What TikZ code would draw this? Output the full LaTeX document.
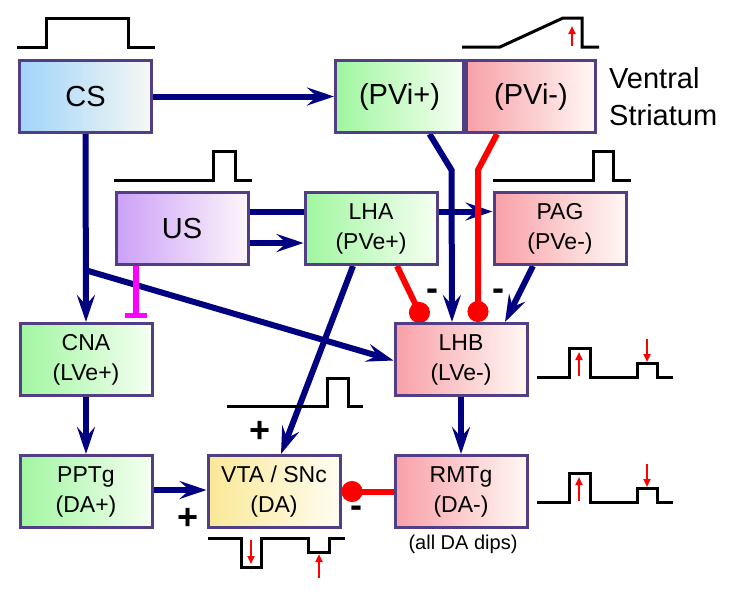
\documentclass[tikz,border=0pt]{standalone}
\usepackage{fontspec}
\setmainfont{Liberation Sans}
\usetikzlibrary{arrows.meta,backgrounds}
\definecolor{navyb}{RGB}{0,0,128}
\definecolor{boxedge}{RGB}{82,62,132}
\definecolor{magb}{RGB}{255,0,255}
\definecolor{redb}{RGB}{255,0,0}
\definecolor{gL}{RGB}{160,246,160}\definecolor{gR}{RGB}{246,255,242}
\definecolor{rL}{RGB}{248,160,168}\definecolor{rR}{RGB}{255,248,244}
\definecolor{bL}{RGB}{160,212,250}\definecolor{bR}{RGB}{246,248,244}
\definecolor{pL}{RGB}{204,160,248}\definecolor{pR}{RGB}{252,246,250}
\definecolor{yL}{RGB}{250,232,150}\definecolor{yR}{RGB}{255,253,242}
\tikzset{
  box/.style={draw=boxedge, line width=3pt, minimum width=132pt, minimum height=72pt, inner sep=0pt, align=center},
  bigtxt/.style={font=\fontsize{29pt}{37pt}\selectfont},
  smalltxt/.style={font=\fontsize{23pt}{30pt}\selectfont},
  green box/.style={box, left color=gL, right color=gR},
  red box/.style={box, left color=rL, right color=rR},
  arr/.style={draw=navyb, line width=6pt, -{Stealth[length=27pt,width=18pt,inset=10pt]}},
  inh/.style={draw=redb, line width=6pt, -{Circle[length=21pt]}},
  sig/.style={black, line width=3pt},
  rarr/.style={redb, line width=2pt, -{Triangle[length=8pt,width=7pt]}},
  sgn/.style={font=\fontsize{36pt}{36pt}\selectfont\bfseries, inner sep=0pt}
}
\begin{document}
\begin{tikzpicture}[x=1pt,y=-1pt]
\useasboundingbox (0,0) rectangle (736,590);
% boxes
\node[box, bigtxt, left color=bL, right color=bR] (CS) at (85.5,96.5) {CS};
\node[green box, bigtxt, minimum width=128pt] (pvip) at (399.5,96.5) {(PVi+)};
\node[red box, bigtxt, minimum width=129pt] (pvim) at (531,96.5) {(PVi-)};
\node[box, bigtxt, left color=pL, right color=pR] (US) at (182,228.5) {US};
\node[green box, smalltxt] (LHA) at (371,228.5) {LHA\\(PVe+)};
\node[red box, smalltxt] (PAG) at (560,228.5) {PAG\\(PVe-)};
\node[green box, smalltxt] (CNA) at (86,359.5) {CNA\\(LVe+)};
\node[red box, smalltxt] (LHB) at (461,359.5) {LHB\\(LVe-)};
\node[green box, smalltxt] (PPTg) at (86,491.5) {PPTg\\(DA+)};
\node[box, smalltxt, left color=yL, right color=yR] (VTA) at (274,491.5) {VTA / SNc\\(DA)};
\node[red box, smalltxt] (RMTg) at (461,491.5) {RMTg\\(DA-)};
% labels
\node[bigtxt, anchor=west, align=left, inner sep=0pt] (VS) at (609,97) {Ventral\\Striatum};
\node[font=\fontsize{20pt}{22pt}\selectfont, inner sep=0pt] (dips) at (463,544) {(all DA dips)};
\node[sgn] (p1) at (260,432) {+};
\node[sgn] (p2) at (188,519) {+};
\node[sgn] (m1) at (356,512) {-};
\node[sgn] (m2) at (432,295) {-};
\node[sgn] (m3) at (498,295) {-};
% connectors
\coordinate (cj) at (85,270);
\coordinate (usT) at (136,318);
\begin{pgfonlayer}{background}
\fill[white] (0,0) rectangle (736,590);
\draw[arr] (CS.east) -- (pvip.west);
\draw[arr] (CS.south) -- (CNA.north);
\draw[arr] (cj) -- ([yshift=-1pt]LHB.west);
\draw[draw=magb, line width=5.5pt, -{Bar[width=22pt]}] ([xshift=-46pt]US.south) -- (usT);
\draw[arr] ([yshift=17pt]US.east) -- ([yshift=17pt]PAG.west);
\draw[arr] ([yshift=-14.5pt]US.east) -- ([yshift=-14.5pt]LHA.west);
\draw[arr] ([xshift=-18pt]LHA.south) -- ([xshift=7pt]VTA.north);
\draw[inh] ([xshift=26pt]LHA.south) -- ([xshift=-37pt]LHB.north);
\draw[arr] ([xshift=30pt]pvip.south) -- ++(22,36) -- ([xshift=-9pt]LHB.north);
\draw[inh] ([xshift=-34pt]pvim.south) -- ++(-19,36) -- ([xshift=17pt]LHB.north);
\draw[arr] ([xshift=-27pt]PAG.south) -- ([xshift=44pt]LHB.north);
\draw[arr] (LHB.south) -- (RMTg.north);
\draw[arr] (CNA.south) -- (PPTg.north);
\draw[arr] ([yshift=1.5pt]PPTg.east) -- ([yshift=1.5pt]VTA.west);
\draw[inh] (RMTg.west) -- (VTA.east);
\end{pgfonlayer}
% signals
\draw[sig] (17,47) -- (46,47) -- (46,18) -- (128,18) -- (128,47) -- (155,47);
\draw[sig] (462,47) -- (500,47) -- (563,18) -- (582,18) -- (582,47) -- (599,47);
\draw[rarr] (572,46) -- (572,26);
\draw[sig] (114,180) -- (213,180) -- (213,151) -- (235,151) -- (235,180) -- (252,180);
\draw[sig] (493,180) -- (593,180) -- (593,151) -- (613,151) -- (613,180) -- (631,180);
\draw[sig] (537,377) -- (569,377) -- (569,348) -- (590,348) -- (590,377) -- (637,377) -- (637,363) -- (657,363) -- (657,377) -- (673,377);
\draw[rarr] (579,376) -- (579,352);
\draw[rarr] (647,339) -- (647,362);
\draw[sig] (537,502) -- (569,502) -- (569,473) -- (590,473) -- (590,502) -- (637,502) -- (637,488) -- (657,488) -- (657,502) -- (673,502);
\draw[rarr] (579,501) -- (579,477);
\draw[rarr] (647,464) -- (647,487);
\draw[sig] (227,406) -- (327,406) -- (327,378) -- (348,378) -- (348,406) -- (363,406);
\draw[sig] (208,538) -- (241,538) -- (241,567) -- (261,567) -- (261,538) -- (308,538) -- (308,552) -- (329,552) -- (329,538) -- (345,538);
\draw[rarr] (251,540) -- (251,564);
\draw[rarr] (319,578) -- (319,554);
\end{tikzpicture}
\end{document}
